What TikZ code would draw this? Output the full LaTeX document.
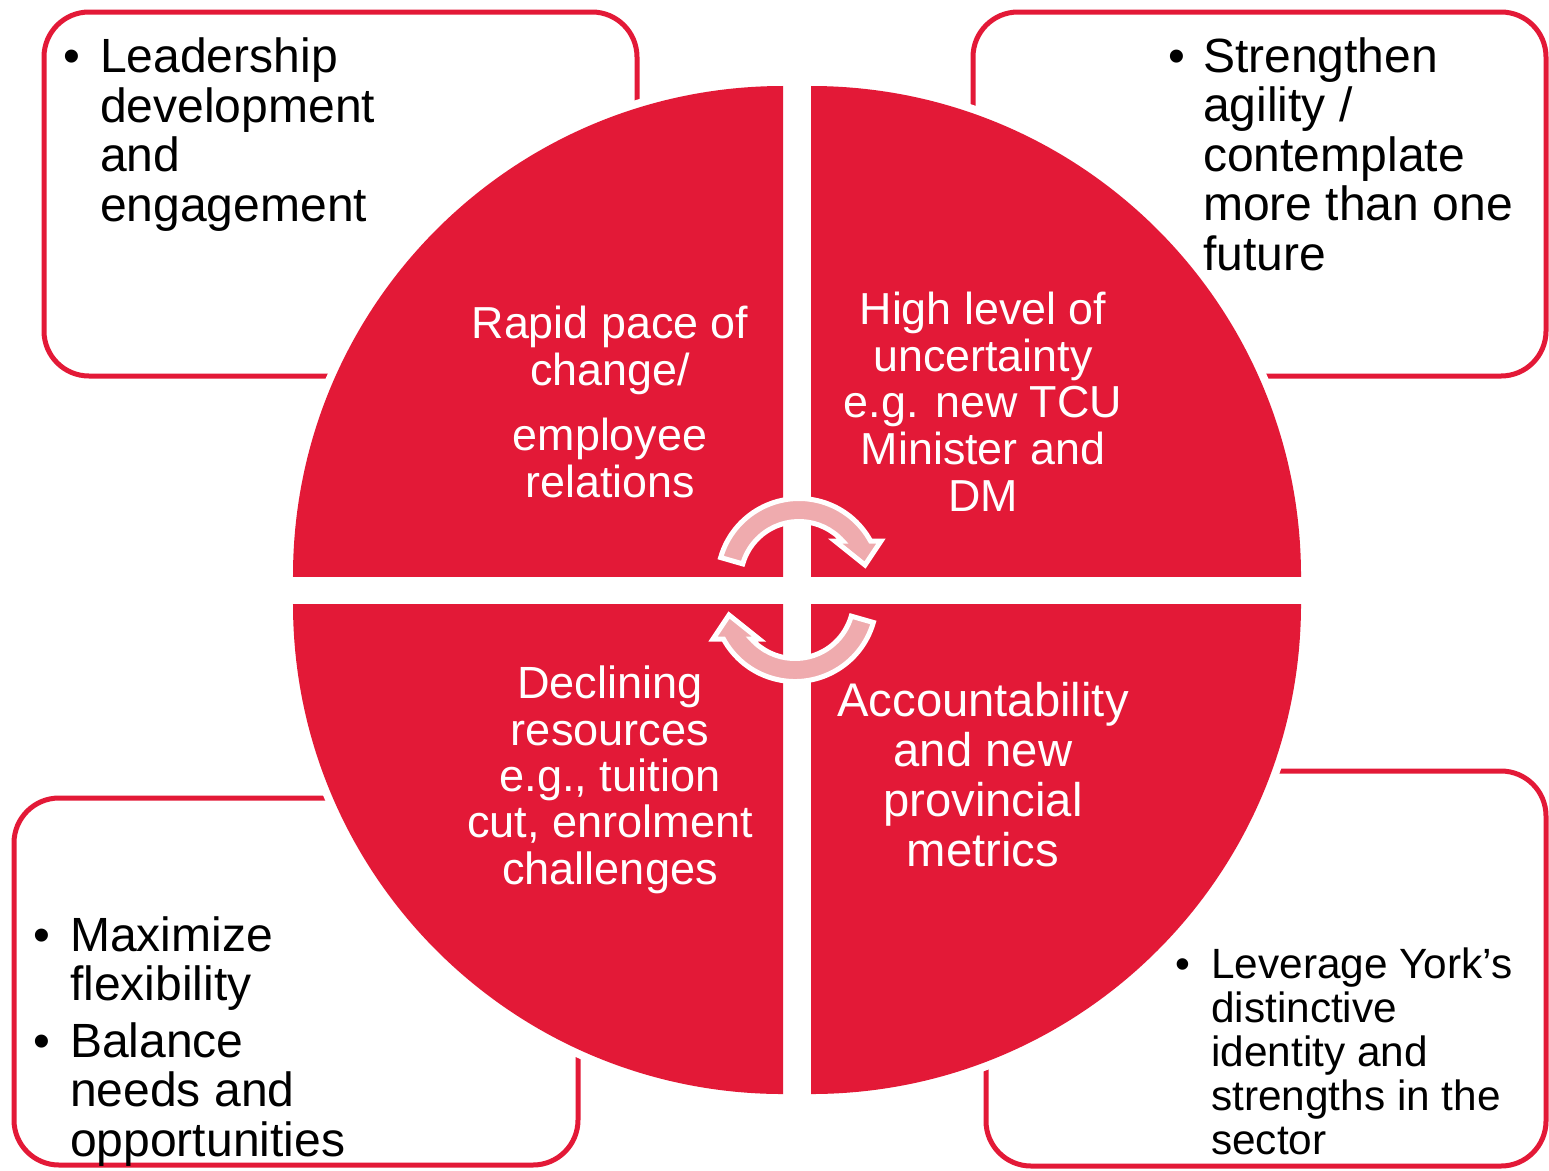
\documentclass[tikz,border=0pt]{standalone}
\usepackage{fontspec}
\setmainfont{Liberation Sans}
\usetikzlibrary{calc}
\definecolor{yred}{RGB}{227,25,55}
\definecolor{apink}{RGB}{239,171,174}
\newcommand\bulx[1]{\makebox[#1][l]{\textbullet}}
\newcommand\indx[1]{\makebox[#1]{}}
\begin{document}
\begin{tikzpicture}[x=1bp,y=-1bp,
  box/.style={draw=yred, line width=5bp, rounded corners=45bp},
  qtext/.style={text=white, align=center, anchor=base, inner sep=0pt},
  btext/.style={text=black, align=left, anchor=base west, inner sep=0pt},
  arr/.style={fill=apink, draw=white, line width=5bp, line join=miter}
]
\useasboundingbox (0,0) rectangle (1549,1170);
\fill[white] (0,0) rectangle (1549,1170);

% boxes
\draw[box] (44,12) rectangle (637,376);
\draw[box] (973,12) rectangle (1546,376);
\draw[box] (14,798) rectangle (578,1165);
\draw[box] (986,771) rectangle (1546,1166);

% quadrants with white halo
\begin{scope}
  \clip (283,76) rectangle (783,576);
  \fill[white] (783,576) circle[radius=498bp];
  \fill[yred] (783,576) circle[radius=490bp];
\end{scope}
\begin{scope}
  \clip (811,76) rectangle (1311,576);
  \fill[white] (811,576) circle[radius=498bp];
  \fill[yred] (811,576) circle[radius=490bp];
\end{scope}
\begin{scope}
  \clip (283,604) rectangle (783,1104);
  \fill[white] (783,604) circle[radius=498bp];
  \fill[yred] (783,604) circle[radius=490bp];
\end{scope}
\begin{scope}
  \clip (811,604) rectangle (1311,1104);
  \fill[white] (811,604) circle[radius=498bp];
  \fill[yred] (811,604) circle[radius=490bp];
\end{scope}

% box texts (node base = baseline of the last line)
\node[btext, font=\fontsize{48.2}{49.6}\selectfont] (t1) at (63,221)
  {\bulx{37bp}Leadership\\\indx{37bp}development\\\indx{37bp}and\\\indx{37bp}engagement};
\node[btext, font=\fontsize{48.2}{49.6}\selectfont] (t2) at (1168,270)
  {\bulx{35bp}Strengthen\\\indx{35bp}agility /\\\indx{35bp}contemplate\\\indx{35bp}more than one\\\indx{35bp}future};
\node[btext, font=\fontsize{48.2}{49.6}\selectfont] (t3) at (33,1156)
  {\bulx{37bp}Maximize\\\indx{37bp}flexibility\\[7bp]\bulx{37bp}Balance\\\indx{37bp}needs and\\\indx{37bp}opportunities};
\node[btext, font=\fontsize{42.5}{44}\selectfont] (t4) at (1175,1154)
  {\bulx{36bp}Leverage York’s\\\indx{36bp}distinctive\\\indx{36bp}identity and\\\indx{36bp}strengths in the\\\indx{36bp}sector};

% quadrant texts
\node[qtext, font=\fontsize{45}{47}\selectfont] (q1) at (610,497)
  {Rapid pace of\\change/\\[18bp]employee\\relations};
\node[qtext, font=\fontsize{45}{46.8}\selectfont] (q2) at (983,511)
  {High level of\\uncertainty\\e.g. new TCU\\Minister and\\DM};
\node[qtext, font=\fontsize{45.3}{46.5}\selectfont] (q3) at (610,884)
  {Declining\\resources\\e.g., tuition\\cut, enrolment\\challenges};
\node[qtext, font=\fontsize{47.4}{50}\selectfont] (q4) at (983,866)
  {Accountability\\and new\\provincial\\metrics};

% circular arrows
\filldraw[arr] ($(799,580)+(164:81.5bp)$) arc[start angle=164, end angle=28.6, radius=81.5bp]
  -- (881,541) -- (865,565) -- (835,541) -- (842.6,541)
  arc[start angle=41.8, end angle=164, radius=58.5bp] -- cycle;
\begin{scope}[rotate around={180:(797,590)}]
\filldraw[arr] ($(799,580)+(164:81.5bp)$) arc[start angle=164, end angle=28.6, radius=81.5bp]
  -- (881,541) -- (865,565) -- (835,541) -- (842.6,541)
  arc[start angle=41.8, end angle=164, radius=58.5bp] -- cycle;
\end{scope}
\end{tikzpicture}
\end{document}
